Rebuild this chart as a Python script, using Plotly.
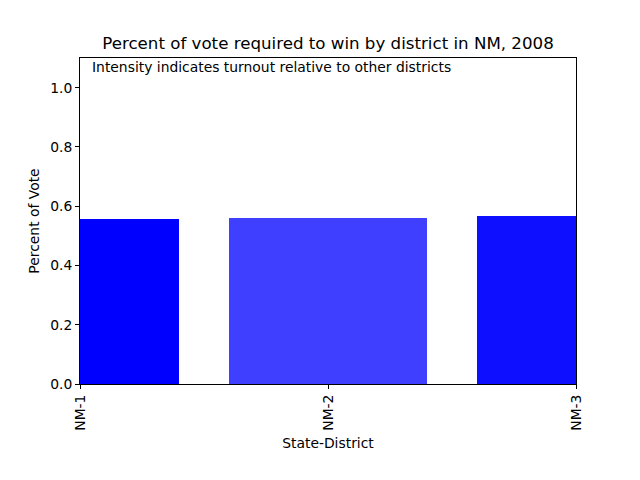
import plotly.graph_objects as go

districts = ["NM-1", "NM-2", "NM-3"]
pct_vote = [0.557, 0.561, 0.568]
intensity = [1.0, 0.753, 0.94]

colors = [f"rgba(0,0,255,{a})" for a in intensity]

fig = go.Figure()
fig.add_trace(go.Bar(
    x=districts, y=pct_vote, width=0.8,
    marker=dict(color=colors, line=dict(width=0)),
))

font = "DejaVu Sans"
fs = 13.89
fig.update_layout(
    width=640, height=480,
    margin=dict(l=72, r=72, t=50, b=104),
    plot_bgcolor="white", paper_bgcolor="white",
    font=dict(family=font, size=fs, color="black"),
    showlegend=False,
    title=dict(text="Percent of vote required to win by district in NM, 2008",
               x=0.5, xanchor="center", y=1 - 35/480, yanchor="middle",
               font=dict(size=16.67, family=font)),
    xaxis=dict(type="category", range=[0, 2], tickangle=-90, automargin=False,
               showline=True, linecolor="black", linewidth=1, mirror=True,
               ticks="outside", ticklen=4, tickcolor="black",
               showgrid=False, zeroline=False,
               title=dict(text="State-District", font=dict(size=fs), standoff=8),
               tickfont=dict(size=fs)),
    yaxis=dict(range=[0, 1.1], tickvals=[0, 0.2, 0.4, 0.6, 0.8, 1.0],
               ticktext=["0.0", "0.2", "0.4", "0.6", "0.8", "1.0"], automargin=False,
               showline=True, linecolor="black", linewidth=1, mirror=True,
               ticks="outside", ticklen=4, tickcolor="black",
               showgrid=False, zeroline=False,
               title=dict(text="Percent of Vote", font=dict(size=fs), standoff=7),
               tickfont=dict(size=fs)),
    bargap=0,
)
fig.add_annotation(text="Intensity indicates turnout relative to other districts",
                   xref="paper", yref="paper", x=0.02, y=0.972,
                   xanchor="left", yanchor="middle", showarrow=False,
                   font=dict(size=fs, family=font))

fig.write_html("out.html")
